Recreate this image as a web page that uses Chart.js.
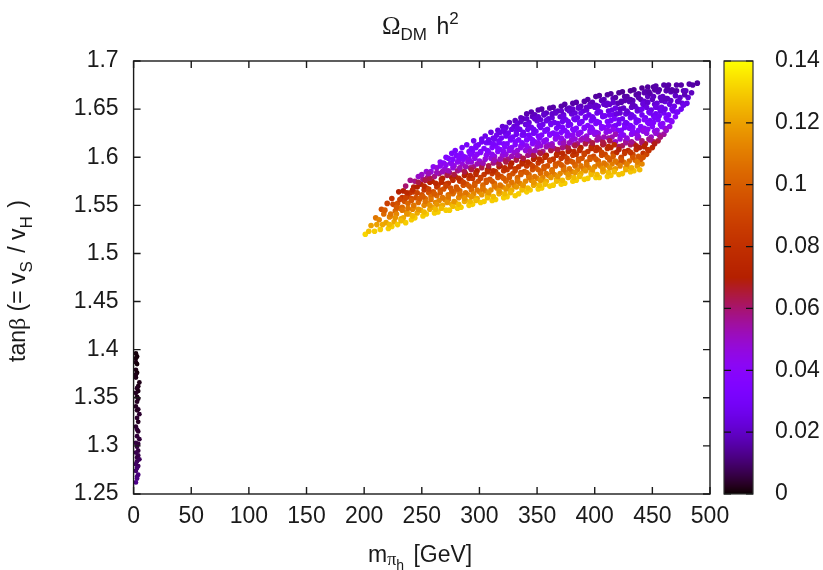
<!DOCTYPE html>
<html>
<head>
<meta charset="utf-8">
<title>Omega DM h2</title>
<script src="https://cdn.jsdelivr.net/npm/chart.js@4"></script>
<style>
    html, body { margin: 0; padding: 0; background: #fff; }
    canvas { display: block; }
</style>
</head>
<body>
<canvas id="chart" width="823" height="570"></canvas>
<script>
// tick labels
const massTicks = [0, 50, 100, 150, 200, 250, 300, 350, 400, 450, 500];
const tanBetaTicks = [1.25, 1.3, 1.35, 1.4, 1.45, 1.5, 1.55, 1.6, 1.65, 1.7];
const omegaTicks = [0, 0.02, 0.04, 0.06, 0.08, 0.1, 0.12, 0.14];

// narrow strip next to the y axis
const stripMass = [2, 3, 2, 2, 3, 2, 3, 2, 2, 5, 4, 3, 4, 2, 3, 4, 3, 2, 4, 3, 5, 3, 4, 2, 3, 4, 3, 5, 2, 4, 3, 4, 2, 4, 3, 5, 3, 2, 4, 3, 2, 4, 3, 3, 2];
const stripTanBeta = [1.396, 1.393, 1.391, 1.387, 1.385, 1.379, 1.376, 1.374, 1.371, 1.366, 1.362, 1.36, 1.357, 1.355, 1.351, 1.349, 1.346, 1.341, 1.338, 1.337, 1.333, 1.329, 1.325, 1.32, 1.317, 1.315, 1.31, 1.307, 1.303, 1.302, 1.299, 1.295, 1.293, 1.29, 1.288, 1.286, 1.284, 1.281, 1.279, 1.277, 1.274, 1.27, 1.268, 1.266, 1.262];
const stripOmega = [0.001, 0.001, 0.001, 0.002, 0.001, 0.002, 0.001, 0.002, 0.002, 0.002, 0.002, 0.003, 0.002, 0.003, 0.002, 0.003, 0.003, 0.003, 0.004, 0.003, 0.004, 0.004, 0.003, 0.004, 0.005, 0.004, 0.005, 0.005, 0.006, 0.005, 0.006, 0.006, 0.007, 0.007, 0.006, 0.008, 0.008, 0.009, 0.008, 0.01, 0.01, 0.011, 0.011, 0.012, 0.013];

// main band, one row per column of the scatter
const bandMass = [
    [201],
    [204, 206],
    [209, 211, 210],
    [214, 216, 213, 217, 215],
    [221, 219, 222, 218, 220],
    [224, 226, 223, 227, 225, 224],
    [229, 232, 228, 231, 229, 233, 230],
    [236, 234, 237, 233, 235, 238, 234, 236],
    [241, 239, 242, 238, 241, 240, 243, 240],
    [244, 246, 243, 247, 245, 243, 246, 244, 247],
    [251, 249, 252, 248, 250, 252, 249, 251, 250],
    [254, 257, 255, 253, 256, 254, 257, 255, 254],
    [261, 259, 262, 258, 260, 263, 259, 261, 258, 260],
    [264, 267, 265, 263, 266, 264, 267, 265, 263, 266],
    [271, 268, 270, 273, 269, 271, 268, 272, 270, 269, 271],
    [274, 276, 273, 277, 275, 273, 276, 274, 277, 275, 273, 276],
    [281, 279, 282, 278, 280, 283, 279, 281, 278, 282, 280, 279],
    [284, 287, 285, 283, 286, 284, 287, 283, 285, 286, 284, 285],
    [291, 288, 290, 293, 289, 291, 288, 292, 290, 288, 291, 289],
    [294, 297, 295, 293, 296, 294, 297, 295, 293, 296, 294, 297, 295],
    [301, 298, 300, 303, 299, 301, 298, 302, 300, 298, 301, 299, 302],
    [304, 307, 305, 303, 306, 304, 307, 303, 305, 307, 304, 306, 305],
    [311, 308, 310, 313, 309, 311, 308, 312, 310, 308, 311, 309, 312, 310],
    [314, 317, 315, 313, 316, 314, 317, 315, 313, 316, 314, 317, 315, 316],
    [321, 318, 320, 323, 319, 321, 318, 322, 320, 318, 321, 319, 322, 320],
    [324, 327, 325, 323, 326, 324, 327, 325, 323, 326, 324, 327, 325, 323, 326],
    [331, 328, 330, 333, 329, 331, 328, 332, 330, 328, 331, 329, 332, 330, 331],
    [334, 337, 335, 333, 336, 334, 337, 335, 333, 336, 334, 337, 335, 333, 336],
    [341, 338, 340, 343, 339, 341, 338, 342, 340, 338, 341, 339, 342, 340, 338, 341],
    [344, 347, 345, 343, 346, 344, 347, 345, 343, 346, 344, 347, 345, 343, 346, 345],
    [351, 348, 350, 353, 349, 351, 348, 352, 350, 348, 351, 349, 352, 350, 348, 351],
    [354, 357, 355, 353, 356, 354, 357, 355, 353, 356, 354, 357, 355, 353, 356, 354],
    [361, 358, 360, 363, 359, 361, 358, 362, 360, 358, 361, 359, 362, 360, 358, 361],
    [364, 367, 365, 363, 366, 364, 367, 365, 363, 366, 364, 367, 365, 363, 366, 364],
    [371, 368, 370, 373, 369, 371, 368, 372, 370, 368, 371, 369, 372, 370, 368, 371],
    [374, 377, 375, 373, 376, 374, 377, 375, 373, 376, 374, 377, 375, 373, 376, 374],
    [381, 378, 380, 383, 379, 381, 378, 382, 380, 378, 381, 379, 382, 380, 378, 381],
    [384, 387, 385, 383, 386, 384, 387, 385, 383, 386, 384, 387, 385, 383, 386, 384],
    [391, 388, 390, 393, 389, 391, 388, 392, 390, 388, 391, 389, 392, 390, 388, 391],
    [394, 397, 395, 393, 396, 394, 397, 395, 393, 396, 394, 397, 395, 393, 396, 394],
    [401, 398, 400, 403, 399, 401, 398, 402, 400, 398, 401, 399, 402, 400, 398, 401],
    [404, 407, 405, 403, 406, 404, 407, 405, 403, 406, 404, 407, 405, 403, 406, 404],
    [411, 408, 410, 413, 409, 411, 408, 412, 410, 408, 411, 409, 412, 410, 408, 411],
    [414, 417, 415, 413, 416, 414, 417, 415, 413, 416, 414, 417, 415, 413, 416, 414],
    [421, 418, 420, 423, 419, 421, 418, 422, 420, 418, 421, 419, 422, 420, 418, 421],
    [424, 427, 425, 423, 426, 424, 427, 425, 423, 426, 424, 427, 425, 423, 426, 424],
    [431, 428, 430, 433, 429, 431, 428, 432, 430, 428, 431, 429, 432, 430, 428, 431],
    [434, 437, 435, 433, 436, 434, 437, 435, 433, 436, 434, 437, 435, 433, 436, 434],
    [439, 441, 440, 442, 439, 441, 438, 442, 440, 438, 441, 439, 442, 440, 438, 441],
    [445, 446, 444, 447, 445, 443, 446, 444, 447, 445, 443, 446, 444, 446],
    [450, 451, 449, 452, 450, 448, 451, 449, 452, 450, 448, 451],
    [455, 456, 454, 457, 455, 453, 456, 454, 457, 455, 453],
    [460, 461, 459, 462, 460, 458, 461, 459, 462, 460],
    [465, 466, 464, 467, 465, 463, 466, 464],
    [470, 471, 469, 472, 470, 468, 471],
    [475, 476, 474, 477, 475],
    [480, 481, 479, 482],
    [484, 485],
    [489]
];
const bandTanBeta = [
    [1.520],
    [1.523, 1.529],
    [1.523, 1.530, 1.537],
    [1.525, 1.530, 1.535, 1.541, 1.546],
    [1.526, 1.532, 1.538, 1.545, 1.552],
    [1.528, 1.533, 1.539, 1.544, 1.551, 1.557],
    [1.530, 1.536, 1.541, 1.547, 1.552, 1.558, 1.564],
    [1.532, 1.537, 1.543, 1.548, 1.554, 1.559, 1.565, 1.570],
    [1.535, 1.541, 1.546, 1.552, 1.557, 1.563, 1.569, 1.576],
    [1.537, 1.542, 1.548, 1.553, 1.558, 1.564, 1.569, 1.575, 1.580],
    [1.539, 1.545, 1.550, 1.556, 1.561, 1.566, 1.572, 1.577, 1.582],
    [1.541, 1.546, 1.552, 1.557, 1.563, 1.568, 1.574, 1.579, 1.585],
    [1.542, 1.548, 1.553, 1.559, 1.564, 1.569, 1.575, 1.580, 1.585, 1.590],
    [1.543, 1.549, 1.555, 1.560, 1.566, 1.571, 1.577, 1.583, 1.589, 1.595],
    [1.545, 1.550, 1.556, 1.561, 1.567, 1.572, 1.578, 1.583, 1.588, 1.594, 1.600],
    [1.545, 1.551, 1.556, 1.562, 1.568, 1.573, 1.579, 1.584, 1.589, 1.594, 1.599, 1.604],
    [1.547, 1.553, 1.558, 1.564, 1.569, 1.575, 1.580, 1.586, 1.591, 1.596, 1.602, 1.607],
    [1.548, 1.554, 1.560, 1.565, 1.571, 1.576, 1.581, 1.587, 1.593, 1.598, 1.604, 1.610],
    [1.550, 1.555, 1.561, 1.566, 1.572, 1.578, 1.583, 1.589, 1.595, 1.600, 1.606, 1.613],
    [1.551, 1.557, 1.562, 1.568, 1.573, 1.578, 1.584, 1.590, 1.595, 1.601, 1.606, 1.612, 1.617],
    [1.553, 1.557, 1.564, 1.568, 1.575, 1.579, 1.586, 1.592, 1.596, 1.603, 1.606, 1.613, 1.619],
    [1.554, 1.560, 1.565, 1.571, 1.576, 1.582, 1.587, 1.593, 1.598, 1.604, 1.609, 1.615, 1.622],
    [1.555, 1.561, 1.566, 1.572, 1.577, 1.583, 1.588, 1.594, 1.599, 1.605, 1.610, 1.615, 1.620, 1.626],
    [1.556, 1.562, 1.568, 1.573, 1.579, 1.585, 1.590, 1.595, 1.601, 1.606, 1.612, 1.617, 1.623, 1.628],
    [1.558, 1.563, 1.569, 1.575, 1.580, 1.586, 1.591, 1.597, 1.602, 1.608, 1.614, 1.620, 1.626, 1.632],
    [1.559, 1.565, 1.570, 1.576, 1.581, 1.587, 1.592, 1.598, 1.603, 1.609, 1.614, 1.620, 1.625, 1.631, 1.636],
    [1.560, 1.566, 1.571, 1.577, 1.583, 1.588, 1.594, 1.599, 1.605, 1.610, 1.616, 1.621, 1.627, 1.632, 1.638],
    [1.562, 1.568, 1.573, 1.579, 1.584, 1.590, 1.595, 1.601, 1.607, 1.612, 1.618, 1.623, 1.629, 1.635, 1.641],
    [1.564, 1.569, 1.575, 1.580, 1.585, 1.591, 1.596, 1.602, 1.607, 1.613, 1.618, 1.623, 1.629, 1.634, 1.640, 1.645],
    [1.566, 1.571, 1.576, 1.582, 1.587, 1.593, 1.598, 1.603, 1.609, 1.614, 1.620, 1.625, 1.631, 1.636, 1.642, 1.647],
    [1.567, 1.572, 1.578, 1.583, 1.589, 1.594, 1.600, 1.605, 1.611, 1.616, 1.622, 1.627, 1.633, 1.638, 1.644, 1.649],
    [1.568, 1.574, 1.579, 1.585, 1.590, 1.596, 1.601, 1.606, 1.612, 1.617, 1.623, 1.628, 1.634, 1.639, 1.645, 1.650],
    [1.570, 1.575, 1.581, 1.586, 1.591, 1.597, 1.602, 1.608, 1.613, 1.618, 1.624, 1.629, 1.635, 1.640, 1.646, 1.651],
    [1.571, 1.577, 1.582, 1.587, 1.593, 1.598, 1.603, 1.609, 1.614, 1.620, 1.625, 1.630, 1.636, 1.641, 1.647, 1.652],
    [1.572, 1.577, 1.583, 1.588, 1.594, 1.599, 1.605, 1.610, 1.615, 1.621, 1.626, 1.632, 1.637, 1.642, 1.648, 1.653],
    [1.573, 1.579, 1.584, 1.590, 1.595, 1.601, 1.606, 1.611, 1.617, 1.622, 1.628, 1.633, 1.639, 1.644, 1.650, 1.655],
    [1.575, 1.580, 1.585, 1.591, 1.596, 1.602, 1.607, 1.613, 1.618, 1.623, 1.629, 1.634, 1.640, 1.645, 1.651, 1.656],
    [1.576, 1.581, 1.587, 1.592, 1.598, 1.603, 1.608, 1.614, 1.619, 1.625, 1.630, 1.636, 1.641, 1.646, 1.652, 1.657],
    [1.577, 1.583, 1.588, 1.593, 1.599, 1.604, 1.610, 1.615, 1.620, 1.626, 1.631, 1.637, 1.642, 1.648, 1.653, 1.658],
    [1.578, 1.584, 1.589, 1.595, 1.600, 1.606, 1.611, 1.617, 1.622, 1.628, 1.633, 1.638, 1.644, 1.649, 1.655, 1.660],
    [1.579, 1.585, 1.590, 1.596, 1.601, 1.607, 1.612, 1.618, 1.624, 1.629, 1.635, 1.640, 1.646, 1.652, 1.657, 1.663],
    [1.579, 1.585, 1.591, 1.596, 1.602, 1.608, 1.613, 1.619, 1.625, 1.630, 1.636, 1.642, 1.647, 1.653, 1.659, 1.664],
    [1.580, 1.586, 1.592, 1.597, 1.603, 1.609, 1.614, 1.620, 1.626, 1.631, 1.637, 1.643, 1.648, 1.654, 1.660, 1.665],
    [1.581, 1.587, 1.593, 1.598, 1.604, 1.610, 1.615, 1.621, 1.627, 1.632, 1.638, 1.644, 1.649, 1.655, 1.661, 1.666],
    [1.582, 1.588, 1.594, 1.599, 1.605, 1.611, 1.616, 1.622, 1.628, 1.633, 1.639, 1.645, 1.650, 1.656, 1.662, 1.667],
    [1.583, 1.589, 1.595, 1.600, 1.606, 1.612, 1.617, 1.623, 1.628, 1.634, 1.640, 1.645, 1.651, 1.657, 1.663, 1.668],
    [1.585, 1.590, 1.596, 1.602, 1.607, 1.613, 1.618, 1.624, 1.630, 1.635, 1.641, 1.646, 1.652, 1.658, 1.663, 1.669],
    [1.586, 1.591, 1.597, 1.603, 1.608, 1.614, 1.620, 1.625, 1.631, 1.636, 1.642, 1.648, 1.653, 1.659, 1.665, 1.670],
    [1.587, 1.593, 1.598, 1.604, 1.610, 1.615, 1.621, 1.627, 1.632, 1.638, 1.644, 1.649, 1.655, 1.660, 1.666, 1.672],
    [1.603, 1.608, 1.614, 1.619, 1.625, 1.630, 1.636, 1.641, 1.647, 1.652, 1.658, 1.663, 1.668, 1.673],
    [1.610, 1.616, 1.621, 1.627, 1.632, 1.638, 1.643, 1.649, 1.655, 1.660, 1.666, 1.673],
    [1.617, 1.623, 1.628, 1.634, 1.639, 1.645, 1.651, 1.656, 1.662, 1.668, 1.674],
    [1.624, 1.630, 1.635, 1.641, 1.646, 1.652, 1.658, 1.663, 1.669, 1.675],
    [1.632, 1.638, 1.644, 1.650, 1.655, 1.661, 1.668, 1.675],
    [1.642, 1.647, 1.653, 1.658, 1.664, 1.669, 1.675],
    [1.650, 1.656, 1.662, 1.669, 1.675],
    [1.656, 1.662, 1.669, 1.676],
    [1.667, 1.675],
    [1.677]
];
const bandOmega = [
    [0.132],
    [0.128, 0.120],
    [0.130, 0.120, 0.108],
    [0.130, 0.122, 0.113, 0.104, 0.095],
    [0.130, 0.121, 0.112, 0.100, 0.088],
    [0.130, 0.122, 0.113, 0.104, 0.092, 0.080],
    [0.130, 0.122, 0.113, 0.104, 0.095, 0.083, 0.070],
    [0.130, 0.122, 0.113, 0.104, 0.095, 0.083, 0.070, 0.060],
    [0.130, 0.121, 0.112, 0.103, 0.094, 0.082, 0.069, 0.057],
    [0.130, 0.122, 0.113, 0.104, 0.095, 0.083, 0.070, 0.058, 0.050],
    [0.130, 0.122, 0.113, 0.104, 0.095, 0.083, 0.070, 0.058, 0.050],
    [0.130, 0.122, 0.113, 0.104, 0.095, 0.083, 0.070, 0.058, 0.048],
    [0.130, 0.122, 0.113, 0.104, 0.095, 0.083, 0.070, 0.058, 0.047, 0.042],
    [0.130, 0.122, 0.113, 0.104, 0.095, 0.083, 0.070, 0.058, 0.047, 0.040],
    [0.130, 0.122, 0.113, 0.104, 0.095, 0.083, 0.070, 0.058, 0.047, 0.040, 0.036],
    [0.130, 0.122, 0.113, 0.104, 0.095, 0.083, 0.070, 0.058, 0.047, 0.040, 0.036, 0.033],
    [0.130, 0.122, 0.113, 0.104, 0.095, 0.083, 0.070, 0.058, 0.047, 0.040, 0.035, 0.032],
    [0.130, 0.122, 0.113, 0.104, 0.095, 0.083, 0.070, 0.058, 0.047, 0.040, 0.035, 0.031],
    [0.130, 0.122, 0.113, 0.104, 0.095, 0.083, 0.070, 0.058, 0.047, 0.040, 0.035, 0.030],
    [0.130, 0.122, 0.113, 0.104, 0.095, 0.083, 0.070, 0.058, 0.047, 0.040, 0.035, 0.030, 0.027],
    [0.130, 0.122, 0.113, 0.104, 0.095, 0.083, 0.070, 0.058, 0.047, 0.040, 0.035, 0.030, 0.027],
    [0.130, 0.122, 0.113, 0.104, 0.095, 0.083, 0.070, 0.058, 0.047, 0.040, 0.035, 0.030, 0.026],
    [0.130, 0.122, 0.113, 0.104, 0.095, 0.083, 0.070, 0.058, 0.047, 0.040, 0.035, 0.030, 0.027, 0.024],
    [0.130, 0.122, 0.113, 0.104, 0.095, 0.083, 0.070, 0.058, 0.047, 0.040, 0.035, 0.030, 0.027, 0.023],
    [0.130, 0.122, 0.113, 0.104, 0.095, 0.083, 0.070, 0.058, 0.047, 0.040, 0.035, 0.030, 0.026, 0.022],
    [0.130, 0.122, 0.113, 0.104, 0.095, 0.083, 0.070, 0.058, 0.047, 0.040, 0.035, 0.030, 0.027, 0.023, 0.020],
    [0.130, 0.122, 0.113, 0.104, 0.095, 0.083, 0.070, 0.058, 0.047, 0.040, 0.035, 0.030, 0.027, 0.023, 0.020],
    [0.130, 0.122, 0.113, 0.104, 0.095, 0.083, 0.070, 0.058, 0.047, 0.040, 0.035, 0.030, 0.027, 0.023, 0.019],
    [0.130, 0.122, 0.113, 0.104, 0.095, 0.083, 0.070, 0.058, 0.047, 0.040, 0.035, 0.030, 0.027, 0.023, 0.019, 0.017],
    [0.130, 0.122, 0.113, 0.104, 0.095, 0.083, 0.070, 0.058, 0.047, 0.040, 0.035, 0.030, 0.027, 0.023, 0.019, 0.017],
    [0.130, 0.122, 0.113, 0.104, 0.095, 0.083, 0.070, 0.058, 0.047, 0.040, 0.035, 0.030, 0.027, 0.023, 0.019, 0.016],
    [0.130, 0.122, 0.113, 0.104, 0.095, 0.083, 0.070, 0.058, 0.047, 0.040, 0.035, 0.030, 0.027, 0.023, 0.019, 0.016],
    [0.130, 0.122, 0.113, 0.104, 0.095, 0.083, 0.070, 0.058, 0.047, 0.040, 0.035, 0.030, 0.027, 0.023, 0.019, 0.016],
    [0.130, 0.122, 0.113, 0.104, 0.095, 0.083, 0.070, 0.058, 0.047, 0.040, 0.035, 0.030, 0.027, 0.023, 0.019, 0.016],
    [0.130, 0.122, 0.113, 0.104, 0.095, 0.083, 0.070, 0.058, 0.047, 0.040, 0.035, 0.030, 0.027, 0.023, 0.019, 0.016],
    [0.130, 0.122, 0.113, 0.104, 0.095, 0.083, 0.070, 0.058, 0.047, 0.040, 0.035, 0.030, 0.027, 0.023, 0.019, 0.016],
    [0.130, 0.122, 0.113, 0.104, 0.095, 0.083, 0.070, 0.058, 0.047, 0.040, 0.035, 0.030, 0.027, 0.023, 0.019, 0.016],
    [0.130, 0.122, 0.113, 0.104, 0.095, 0.083, 0.070, 0.058, 0.047, 0.040, 0.035, 0.030, 0.027, 0.023, 0.019, 0.016],
    [0.130, 0.122, 0.113, 0.104, 0.095, 0.083, 0.070, 0.058, 0.047, 0.040, 0.035, 0.030, 0.027, 0.023, 0.019, 0.016],
    [0.130, 0.122, 0.113, 0.104, 0.095, 0.083, 0.070, 0.058, 0.047, 0.040, 0.035, 0.030, 0.027, 0.023, 0.019, 0.016],
    [0.130, 0.122, 0.113, 0.103, 0.093, 0.081, 0.068, 0.056, 0.046, 0.039, 0.034, 0.030, 0.026, 0.022, 0.018, 0.015],
    [0.130, 0.122, 0.112, 0.102, 0.092, 0.080, 0.067, 0.055, 0.045, 0.039, 0.034, 0.029, 0.026, 0.022, 0.018, 0.015],
    [0.129, 0.121, 0.111, 0.101, 0.090, 0.078, 0.065, 0.054, 0.045, 0.038, 0.033, 0.029, 0.025, 0.021, 0.018, 0.015],
    [0.129, 0.120, 0.110, 0.099, 0.088, 0.076, 0.063, 0.052, 0.044, 0.037, 0.032, 0.028, 0.025, 0.021, 0.018, 0.015],
    [0.128, 0.118, 0.104, 0.090, 0.076, 0.062, 0.050, 0.042, 0.036, 0.031, 0.028, 0.024, 0.020, 0.018, 0.016, 0.014],
    [0.128, 0.118, 0.104, 0.090, 0.076, 0.062, 0.050, 0.042, 0.036, 0.031, 0.028, 0.024, 0.020, 0.018, 0.016, 0.014],
    [0.128, 0.118, 0.104, 0.090, 0.076, 0.062, 0.050, 0.042, 0.036, 0.031, 0.028, 0.024, 0.020, 0.018, 0.016, 0.014],
    [0.128, 0.118, 0.104, 0.090, 0.076, 0.062, 0.050, 0.042, 0.036, 0.031, 0.028, 0.024, 0.020, 0.018, 0.016, 0.014],
    [0.126, 0.113, 0.098, 0.082, 0.069, 0.058, 0.048, 0.041, 0.035, 0.031, 0.028, 0.024, 0.020, 0.018, 0.016, 0.014],
    [0.090, 0.080, 0.068, 0.056, 0.046, 0.040, 0.035, 0.030, 0.027, 0.024, 0.021, 0.019, 0.017, 0.015],
    [0.075, 0.062, 0.050, 0.043, 0.037, 0.032, 0.028, 0.025, 0.022, 0.019, 0.017, 0.015],
    [0.065, 0.053, 0.044, 0.038, 0.033, 0.029, 0.026, 0.023, 0.020, 0.018, 0.016],
    [0.055, 0.046, 0.040, 0.034, 0.030, 0.026, 0.023, 0.020, 0.018, 0.016],
    [0.045, 0.038, 0.033, 0.028, 0.024, 0.021, 0.018, 0.016],
    [0.036, 0.030, 0.026, 0.023, 0.020, 0.018, 0.016],
    [0.028, 0.024, 0.021, 0.018, 0.016],
    [0.025, 0.022, 0.019, 0.016],
    [0.019, 0.016],
    [0.015]
];

// points lying between the columns above
const gapMass = [
    [222, 223],
    [227, 228],
    [232, 233, 231],
    [237, 238, 236, 237],
    [242, 243, 241, 242],
    [247, 248, 246, 247],
    [252, 253, 251, 252, 253],
    [257, 258, 256, 257, 256],
    [262, 263, 261, 262, 263],
    [267, 268, 266, 267, 268, 266],
    [272, 273, 271, 272, 273, 271],
    [277, 278, 276, 277, 278, 276, 277],
    [282, 283, 281, 282, 283, 281, 282],
    [287, 288, 286, 287, 288, 286],
    [292, 293, 291, 292, 293, 291, 292, 293],
    [297, 298, 296, 297, 298, 296, 297],
    [302, 303, 301, 302, 303, 301, 302],
    [307, 308, 306, 307, 308, 306, 307, 308],
    [312, 313, 311, 312, 313, 311, 312, 313],
    [317, 318, 316, 317, 318, 316, 317, 318],
    [322, 323, 321, 322, 323, 321, 322, 323, 321],
    [327, 328, 326, 327, 328, 326, 327, 328],
    [332, 333, 331, 332, 333, 331, 332, 333],
    [337, 338, 336, 337, 338, 336, 337, 338, 336],
    [342, 343, 341, 342, 344, 341, 343, 342, 341],
    [347, 348, 346, 347, 348, 346, 347, 348],
    [352, 353, 351, 352, 353, 351, 352, 353, 351],
    [357, 358, 356, 357, 358, 356, 357, 358, 356],
    [362, 363, 361, 362, 363, 361, 362, 363],
    [367, 368, 366, 367, 368, 366, 367, 368, 366],
    [372, 373, 371, 372, 373, 371, 372, 373, 371],
    [377, 378, 376, 377, 378, 376, 377, 378],
    [382, 383, 381, 382, 383, 381, 382, 383, 381],
    [387, 388, 386, 387, 388, 386, 387, 388, 386],
    [392, 393, 391, 392, 393, 391, 392, 393],
    [397, 398, 396, 397, 398, 396, 397, 398, 396],
    [402, 403, 401, 402, 403, 401, 402, 403, 401],
    [407, 408, 406, 407, 408, 406, 407, 408],
    [412, 413, 411, 412, 413, 411, 412, 413, 411],
    [417, 418, 416, 417, 418, 416, 417, 418, 416],
    [422, 423, 421, 422, 423, 421, 422, 423],
    [427, 428, 426, 427, 428, 426, 427, 428, 426],
    [432, 433, 431, 432, 433, 431, 432, 433, 431],
    [437, 438, 436, 437, 438, 436, 437, 438],
    [442, 443, 441, 442, 443, 441, 442, 443],
    [447, 448, 446, 447, 448, 446, 447],
    [452, 453, 451, 452, 453, 451, 452],
    [457, 458, 456, 457, 458, 456],
    [462, 463, 461, 462, 463],
    [467, 468, 466, 467],
    [472, 473, 471],
    [477, 478]
];
const gapTanBeta = [
    [1.530, 1.541],
    [1.537, 1.548],
    [1.534, 1.545, 1.556],
    [1.541, 1.547, 1.558, 1.563],
    [1.539, 1.550, 1.555, 1.566],
    [1.546, 1.557, 1.563, 1.574],
    [1.543, 1.554, 1.559, 1.570, 1.576],
    [1.550, 1.556, 1.567, 1.578, 1.583],
    [1.546, 1.551, 1.562, 1.573, 1.584],
    [1.547, 1.558, 1.563, 1.574, 1.585, 1.591],
    [1.553, 1.559, 1.570, 1.581, 1.586, 1.592],
    [1.549, 1.554, 1.565, 1.576, 1.582, 1.593, 1.598],
    [1.551, 1.562, 1.567, 1.578, 1.589, 1.595, 1.600],
    [1.557, 1.563, 1.574, 1.585, 1.590, 1.601],
    [1.554, 1.559, 1.570, 1.581, 1.587, 1.598, 1.603, 1.609],
    [1.555, 1.566, 1.571, 1.582, 1.593, 1.599, 1.610],
    [1.561, 1.567, 1.578, 1.589, 1.594, 1.605, 1.616],
    [1.558, 1.563, 1.574, 1.585, 1.591, 1.602, 1.607, 1.618],
    [1.559, 1.570, 1.575, 1.586, 1.597, 1.603, 1.614, 1.619],
    [1.565, 1.571, 1.582, 1.593, 1.598, 1.609, 1.615, 1.626],
    [1.562, 1.567, 1.578, 1.589, 1.595, 1.606, 1.611, 1.622, 1.628],
    [1.563, 1.574, 1.579, 1.590, 1.601, 1.607, 1.618, 1.629],
    [1.569, 1.575, 1.586, 1.597, 1.602, 1.613, 1.624, 1.630],
    [1.566, 1.571, 1.582, 1.593, 1.599, 1.610, 1.615, 1.626, 1.637],
    [1.568, 1.579, 1.584, 1.595, 1.606, 1.612, 1.623, 1.634, 1.640],
    [1.574, 1.580, 1.591, 1.602, 1.607, 1.618, 1.629, 1.640],
    [1.571, 1.576, 1.587, 1.598, 1.604, 1.615, 1.620, 1.631, 1.642],
    [1.572, 1.583, 1.588, 1.600, 1.611, 1.616, 1.627, 1.638, 1.644],
    [1.579, 1.585, 1.596, 1.607, 1.612, 1.623, 1.634, 1.645],
    [1.575, 1.580, 1.591, 1.602, 1.608, 1.619, 1.624, 1.635, 1.646],
    [1.576, 1.587, 1.592, 1.604, 1.615, 1.620, 1.631, 1.642, 1.648],
    [1.582, 1.588, 1.599, 1.610, 1.615, 1.626, 1.637, 1.648],
    [1.579, 1.584, 1.595, 1.606, 1.612, 1.623, 1.628, 1.639, 1.650],
    [1.580, 1.591, 1.596, 1.607, 1.618, 1.624, 1.635, 1.646, 1.651],
    [1.586, 1.592, 1.603, 1.614, 1.619, 1.630, 1.641, 1.652],
    [1.582, 1.587, 1.598, 1.609, 1.615, 1.626, 1.631, 1.642, 1.653],
    [1.582, 1.593, 1.598, 1.610, 1.621, 1.626, 1.637, 1.648, 1.654],
    [1.588, 1.594, 1.605, 1.616, 1.621, 1.632, 1.643, 1.655],
    [1.584, 1.589, 1.600, 1.611, 1.617, 1.628, 1.633, 1.644, 1.656],
    [1.585, 1.596, 1.601, 1.613, 1.624, 1.629, 1.640, 1.651, 1.657],
    [1.591, 1.597, 1.608, 1.619, 1.624, 1.635, 1.646, 1.658],
    [1.587, 1.593, 1.604, 1.615, 1.620, 1.631, 1.636, 1.648, 1.659],
    [1.589, 1.600, 1.605, 1.616, 1.627, 1.633, 1.644, 1.655, 1.660],
    [1.595, 1.601, 1.612, 1.623, 1.628, 1.639, 1.650, 1.662],
    [1.600, 1.611, 1.617, 1.628, 1.639, 1.650, 1.656, 1.667],
    [1.607, 1.618, 1.629, 1.635, 1.646, 1.657, 1.668],
    [1.614, 1.625, 1.636, 1.641, 1.652, 1.663, 1.670],
    [1.621, 1.632, 1.643, 1.648, 1.659, 1.670],
    [1.628, 1.639, 1.650, 1.661, 1.671],
    [1.637, 1.648, 1.659, 1.670],
    [1.647, 1.658, 1.669],
    [1.654, 1.665]
];
const gapOmega = [
    [0.126, 0.108],
    [0.117, 0.099],
    [0.126, 0.108, 0.089],
    [0.117, 0.108, 0.089, 0.076],
    [0.126, 0.108, 0.099, 0.076],
    [0.117, 0.099, 0.089, 0.064],
    [0.126, 0.108, 0.099, 0.076, 0.064],
    [0.117, 0.108, 0.089, 0.064, 0.052],
    [0.126, 0.117, 0.099, 0.076, 0.052],
    [0.126, 0.108, 0.099, 0.076, 0.052, 0.043],
    [0.117, 0.108, 0.089, 0.064, 0.052, 0.043],
    [0.126, 0.117, 0.099, 0.076, 0.064, 0.043, 0.037],
    [0.126, 0.108, 0.099, 0.076, 0.052, 0.043, 0.037],
    [0.117, 0.108, 0.089, 0.064, 0.052, 0.037],
    [0.126, 0.117, 0.099, 0.076, 0.064, 0.043, 0.037, 0.032],
    [0.126, 0.108, 0.099, 0.076, 0.052, 0.043, 0.032],
    [0.117, 0.108, 0.089, 0.064, 0.052, 0.037, 0.028],
    [0.126, 0.117, 0.099, 0.076, 0.064, 0.043, 0.037, 0.028],
    [0.126, 0.108, 0.099, 0.076, 0.052, 0.043, 0.032, 0.028],
    [0.117, 0.108, 0.089, 0.064, 0.052, 0.037, 0.032, 0.025],
    [0.126, 0.117, 0.099, 0.076, 0.064, 0.043, 0.037, 0.028, 0.025],
    [0.126, 0.108, 0.099, 0.076, 0.052, 0.043, 0.032, 0.025],
    [0.117, 0.108, 0.089, 0.064, 0.052, 0.037, 0.028, 0.025],
    [0.126, 0.117, 0.099, 0.076, 0.064, 0.043, 0.037, 0.028, 0.021],
    [0.126, 0.108, 0.099, 0.076, 0.052, 0.043, 0.032, 0.025, 0.021],
    [0.117, 0.108, 0.089, 0.064, 0.052, 0.037, 0.028, 0.021],
    [0.126, 0.117, 0.099, 0.076, 0.064, 0.043, 0.037, 0.028, 0.021],
    [0.126, 0.108, 0.099, 0.076, 0.052, 0.043, 0.032, 0.025, 0.021],
    [0.117, 0.108, 0.089, 0.064, 0.052, 0.037, 0.028, 0.021],
    [0.126, 0.117, 0.099, 0.076, 0.064, 0.043, 0.037, 0.028, 0.021],
    [0.126, 0.108, 0.099, 0.076, 0.052, 0.043, 0.032, 0.025, 0.021],
    [0.117, 0.108, 0.089, 0.064, 0.052, 0.037, 0.028, 0.021],
    [0.126, 0.117, 0.099, 0.076, 0.064, 0.043, 0.037, 0.028, 0.021],
    [0.126, 0.108, 0.099, 0.076, 0.052, 0.043, 0.032, 0.025, 0.021],
    [0.117, 0.108, 0.089, 0.064, 0.052, 0.037, 0.028, 0.021],
    [0.126, 0.117, 0.099, 0.076, 0.064, 0.043, 0.037, 0.028, 0.021],
    [0.126, 0.108, 0.099, 0.076, 0.052, 0.043, 0.032, 0.025, 0.021],
    [0.117, 0.108, 0.089, 0.064, 0.052, 0.037, 0.028, 0.021],
    [0.126, 0.117, 0.099, 0.076, 0.064, 0.043, 0.037, 0.028, 0.021],
    [0.126, 0.108, 0.099, 0.076, 0.052, 0.043, 0.032, 0.025, 0.021],
    [0.111, 0.097, 0.069, 0.046, 0.039, 0.029, 0.022, 0.017],
    [0.123, 0.111, 0.083, 0.056, 0.046, 0.033, 0.029, 0.022, 0.017],
    [0.123, 0.097, 0.083, 0.056, 0.039, 0.033, 0.026, 0.019, 0.017],
    [0.111, 0.097, 0.069, 0.046, 0.039, 0.029, 0.022, 0.017],
    [0.095, 0.072, 0.060, 0.045, 0.035, 0.027, 0.023, 0.017],
    [0.080, 0.057, 0.042, 0.036, 0.028, 0.021, 0.016],
    [0.068, 0.048, 0.035, 0.031, 0.024, 0.019, 0.016],
    [0.058, 0.040, 0.030, 0.026, 0.020, 0.016],
    [0.050, 0.035, 0.025, 0.019, 0.016],
    [0.040, 0.028, 0.020, 0.016],
    [0.030, 0.021, 0.016],
    [0.026, 0.018]
];

const sansFont = '"Liberation Sans", Arial, sans-serif';
const serifFont = '"Liberation Serif", serif';
const inkColor = '#1a1a1a';

// same palette as gnuplot's default pm3d, runs from black over violet and red to yellow
function paletteColor(omega) {
    const g = Math.min(Math.max(omega / 0.14, 0), 1);
    const r = Math.sqrt(g);
    const gr = g * g * g;
    const b = Math.max(Math.sin(2 * Math.PI * g), 0);
    return `rgb(${Math.round(r * 255)}, ${Math.round(gr * 255)}, ${Math.round(b * 255)})`;
}

const allMass = stripMass.concat(bandMass.flat(), gapMass.flat());
const allTanBeta = stripTanBeta.concat(bandTanBeta.flat(), gapTanBeta.flat());
const allOmega = stripOmega.concat(bandOmega.flat(), gapOmega.flat());
const points = allMass.map((m, i) => ({ x: m, y: allTanBeta[i] }));

// draws text pieces one after the other, for sub and superscripts
function drawRuns(ctx, x, y, runs) {
    ctx.textAlign = 'left';
    ctx.textBaseline = 'alphabetic';
    ctx.fillStyle = inkColor;
    let pos = x;
    runs.forEach(run => {
        ctx.font = `${run.size}px ${run.family || sansFont}`;
        ctx.fillText(run.text, pos + (run.gap || 0), y + (run.dy || 0));
        pos += ctx.measureText(run.text).width + (run.gap || 0);
    });
}

// the scales must not push the plot area away from where the frame sits
function fixScale(s, size) {
    if (s.isHorizontal()) s.height = size; else s.width = size;
    s.paddingTop = 0;
    s.paddingBottom = 0;
    s.paddingLeft = 0;
    s.paddingRight = 0;
}

const framePlugin = {
    id: 'frame',
    afterDraw(chart) {
        const { ctx, chartArea: area, scales } = chart;
        ctx.save();

        // plot border and inward ticks on all four sides
        ctx.strokeStyle = inkColor;
        ctx.lineWidth = 1.4;
        ctx.strokeRect(area.left, area.top, area.right - area.left, area.bottom - area.top);
        ctx.beginPath();
        massTicks.forEach(v => {
            const px = scales.x.getPixelForValue(v);
            ctx.moveTo(px, area.bottom); ctx.lineTo(px, area.bottom - 7);
            ctx.moveTo(px, area.top); ctx.lineTo(px, area.top + 7);
        });
        tanBetaTicks.forEach(v => {
            const py = scales.y.getPixelForValue(v);
            ctx.moveTo(area.left, py); ctx.lineTo(area.left + 7, py);
            ctx.moveTo(area.right, py); ctx.lineTo(area.right - 7, py);
        });
        ctx.stroke();

        // colour bar
        const barLeft = 724;
        const barRight = 753;
        for (let py = Math.floor(area.top); py < area.bottom; py++) {
            ctx.fillStyle = paletteColor(scales.omega.getValueForPixel(py + 0.5));
            ctx.fillRect(barLeft, py, barRight - barLeft, 1);
        }
        ctx.strokeStyle = '#333';
        ctx.lineWidth = 1.2;
        ctx.strokeRect(barLeft, area.top, barRight - barLeft, area.bottom - area.top);
        ctx.strokeStyle = '#111';
        ctx.beginPath();
        omegaTicks.forEach(v => {
            const py = scales.omega.getPixelForValue(v);
            ctx.moveTo(barLeft, py); ctx.lineTo(barLeft + 7, py);
            ctx.moveTo(barRight, py); ctx.lineTo(barRight - 7, py);
        });
        ctx.stroke();

        // title
        drawRuns(ctx, 382, 34, [
            { text: 'Ω', size: 25, family: serifFont },
            { text: 'DM', size: 17, dy: 6 },
            { text: ' h', size: 23, gap: 3 },
            { text: '2', size: 17, dy: -10 }
        ]);

        // x axis label
        drawRuns(ctx, 368, 562, [
            { text: 'm', size: 23 },
            { text: 'π', size: 18, family: serifFont, dy: 3 },
            { text: 'h', size: 14, dy: 8 },
            { text: ' [GeV]', size: 23, gap: 3 }
        ]);

        // y axis label, rotated
        ctx.translate(25, 362);
        ctx.rotate(-Math.PI / 2);
        drawRuns(ctx, 0, 0, [
            { text: 'tan', size: 23 },
            { text: 'β', size: 24, family: serifFont },
            { text: ' (= v', size: 23 },
            { text: 'S', size: 17, dy: 7 },
            { text: ' / v', size: 23, gap: 2 },
            { text: 'H', size: 17, dy: 7 },
            { text: ' )', size: 23, gap: 2 }
        ]);

        ctx.restore();
    }
};

new Chart(document.getElementById('chart').getContext('2d'), {
    type: 'scatter',
    data: {
        datasets: [{
            data: points,
            pointRadius: points.map((p, i) => (i < stripMass.length ? 2.4 : 2.8)),
            pointBorderWidth: 0,
            pointBackgroundColor: allOmega.map(paletteColor)
        }]
    },
    options: {
        responsive: false,
        animation: false,
        layout: { padding: { top: 61, left: 0, right: 0, bottom: 0 } },
        plugins: { legend: { display: false }, tooltip: { enabled: false } },
        scales: {
            x: {
                type: 'linear',
                min: 0,
                max: 500,
                afterFit: s => fixScale(s, 76),
                afterBuildTicks: s => { s.ticks = massTicks.map(v => ({ value: v })); },
                grid: { display: false, drawTicks: false },
                border: { display: false },
                ticks: { color: inkColor, font: { family: sansFont, size: 23 }, padding: 9, maxRotation: 0, autoSkip: false }
            },
            y: {
                type: 'linear',
                min: 1.25,
                max: 1.7,
                afterFit: s => fixScale(s, 133.6),
                afterBuildTicks: s => { s.ticks = tanBetaTicks.map(v => ({ value: v })); },
                grid: { display: false, drawTicks: false },
                border: { display: false },
                ticks: { color: inkColor, font: { family: sansFont, size: 23 }, padding: 15, autoSkip: false, callback: v => String(v) }
            },
            omega: {
                type: 'linear',
                axis: 'y',
                position: 'right',
                min: 0,
                max: 0.14,
                afterFit: s => fixScale(s, 113),
                afterBuildTicks: s => { s.ticks = omegaTicks.map(v => ({ value: v })); },
                grid: { display: false, drawTicks: false },
                border: { display: false },
                ticks: { color: inkColor, font: { family: sansFont, size: 23 }, padding: 65, autoSkip: false, callback: v => String(v) }
            }
        }
    },
    plugins: [framePlugin]
});
</script>
</body>
</html>
